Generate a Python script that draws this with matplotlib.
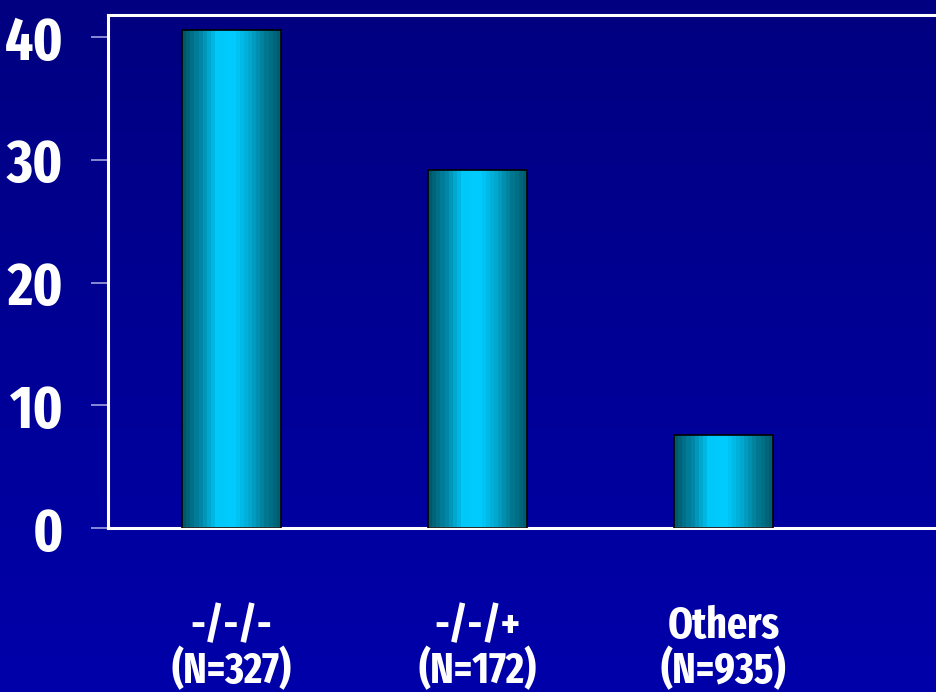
import numpy as np
import matplotlib.pyplot as plt
from matplotlib import font_manager
from matplotlib.colors import LinearSegmentedColormap

groups = ['-/-/-', '-/-/+', 'Others']
counts = ['327', '172', '935']
values = [40.6, 29.2, 7.6]
yticks = [0, 10, 20, 30, 40]

# narrow bold face if available
installed = {f.name for f in font_manager.fontManager.ttflist}
font = 'Liberation Sans'
for name in ['Fira Sans Extra Condensed', 'Fira Sans Condensed', 'Liberation Sans']:
    if name in installed:
        font = name
        break
plt.rcParams['font.family'] = [font, 'DejaVu Sans']

fig = plt.figure(figsize=(9.37, 6.92), dpi=100)

# background: navy fading to brighter blue
bg = fig.add_axes([0, 0, 1, 1], zorder=-10)
grad = np.linspace(0, 1, 256).reshape(-1, 1)
bg_cmap = LinearSegmentedColormap.from_list('bg', ['#000080', '#0000aa'])
bg.imshow(grad, aspect='auto', cmap=bg_cmap, extent=[0, 1, 0, 1], origin='upper')
bg.axis('off')

ax = fig.add_axes([108/937, 1 - 528/692, 1 - 108/937, (528 - 15)/692])
ax.patch.set_alpha(0)

x = np.arange(len(groups))
bars = ax.bar(x, values, width=0.4, color='none', edgecolor='black', linewidth=1.2, zorder=3)

# banded cyan shading across each bar
bar_cmap = LinearSegmentedColormap.from_list(
    'bar', ['#005868', '#0088a8', '#00c8f8', '#00ccff', '#00a8d0', '#007890', '#005468'])
bands = np.floor(np.linspace(0, 1, 400) * 24) / 24
for b in bars:
    x0, w, h = b.get_x(), b.get_width(), b.get_height()
    im = ax.imshow(bands.reshape(1, -1), cmap=bar_cmap, aspect='auto',
                   extent=[x0, x0 + w, 0, h], zorder=2, interpolation='nearest')
    im.set_clip_path(b)

ax.set_xlim(-0.502, 2.868)
ax.set_ylim(0, 41.8)

for side in ['top', 'left', 'bottom']:
    ax.spines[side].set_color('white')
    ax.spines[side].set_linewidth(2.2)
ax.spines['right'].set_visible(False)

ax.set_yticks(yticks)
ax.set_yticklabels([str(t) for t in yticks], fontsize=43, fontweight='bold', color='white')
ax.tick_params(axis='y', length=12, width=1.2, color='#a0a0e0', pad=20)

ax.set_xticks(x)
ax.set_xticklabels([g + '\n(N=' + n + ')' for g, n in zip(groups, counts)],
                   fontsize=31, fontweight='bold', color='white', linespacing=1.0)
ax.tick_params(axis='x', length=0, pad=56)

fig.savefig('out.png', dpi=100)
